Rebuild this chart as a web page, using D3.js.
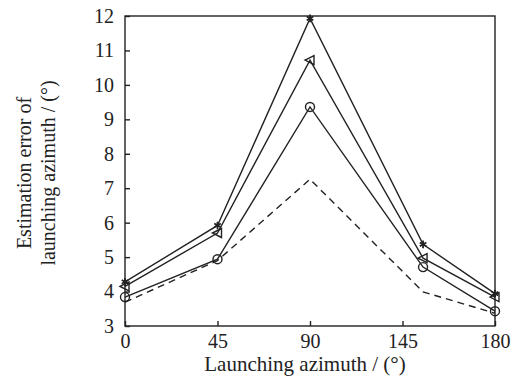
<!DOCTYPE html>
<html>
<head>
<meta charset="utf-8">
<script src="https://cdn.jsdelivr.net/npm/d3@7"></script>
<style>
body { margin: 0; background: #fff; }
text { font-family: "Liberation Serif", "Times New Roman", serif; fill: #222; }
</style>
</head>
<body>
<div id="chart"></div>
<script>
// azimuths where the points were measured
var azimuths = [0, 45, 90, 145, 180];
// axis ticks (the 4th tick is printed "145" in the source figure)
var xTickValues = [0, 45, 90, 135, 180];
var xTickLabels = ["0", "45", "90", "145", "180"];
var yTickValues = [3, 4, 5, 6, 7, 8, 9, 10, 11, 12];

var starSeries = [4.28, 5.92, 11.93, 5.37, 3.94];
var triangleSeries = [4.15, 5.70, 10.72, 4.97, 3.84];
var circleSeries = [3.84, 4.94, 9.36, 4.71, 3.43];
var dashedSeries = [3.69, 4.90, 7.26, 3.99, 3.37];

var width = 515, height = 378;
var margin = { left: 125, right: 20, top: 16, bottom: 52 };
var w = width - margin.left - margin.right;
var h = height - margin.top - margin.bottom;

var svg = d3.select("#chart").append("svg")
	.attr("width", width)
	.attr("height", height);

var g = svg.append("g")
	.attr("transform", "translate(" + margin.left + "," + margin.top + ")");

var x = d3.scaleLinear().domain([0, 180]).range([0, w]);
var y = d3.scaleLinear().domain([3, 12]).range([h, 0]);

// frame
g.append("rect")
	.attr("width", w)
	.attr("height", h)
	.attr("fill", "none")
	.attr("stroke", "#222")
	.attr("stroke-width", 1.4);

// bottom axis, ticks pointing inward
var xAxis = g.append("g")
	.attr("transform", "translate(0," + h + ")")
	.call(d3.axisBottom(x).tickValues(xTickValues)
		.tickFormat(function (d, i) { return xTickLabels[i]; })
		.tickSize(-5).tickPadding(8));
xAxis.select(".domain").remove();
xAxis.selectAll("line").attr("stroke", "#222").attr("stroke-width", 1.4);
xAxis.selectAll("text").style("font-size", "20px").attr("fill", "#222");

// left axis
var yAxis = g.append("g")
	.call(d3.axisLeft(y).tickValues(yTickValues).tickSize(-5).tickPadding(11));
yAxis.select(".domain").remove();
yAxis.selectAll("line").attr("stroke", "#222").attr("stroke-width", 1.4);
yAxis.selectAll("text").style("font-size", "20px").attr("fill", "#222");

var line = d3.line()
	.x(function (d) { return x(d[0]); })
	.y(function (d) { return y(d[1]); });

function pts(vals) {
	return azimuths.map(function (a, i) { return [a, vals[i]]; });
}

var series = [
	{ vals: dashedSeries, dash: "7,5", marker: null },
	{ vals: circleSeries, dash: null, marker: "circle" },
	{ vals: triangleSeries, dash: null, marker: "triangle" },
	{ vals: starSeries, dash: null, marker: "star" }
];

series.forEach(function (s) {
	g.append("path")
		.datum(pts(s.vals))
		.attr("d", line)
		.attr("fill", "none")
		.attr("stroke", "#222")
		.attr("stroke-width", 1.4)
		.attr("stroke-dasharray", s.dash);

	if (!s.marker) return;
	var m = g.selectAll(null)
		.data(pts(s.vals))
		.enter()
		.append("g")
		.attr("transform", function (d) { return "translate(" + x(d[0]) + "," + y(d[1]) + ")"; });

	if (s.marker == "circle") {
		m.append("circle").attr("r", 4.5)
			.attr("fill", "none").attr("stroke", "#222").attr("stroke-width", 1.4);
	} else if (s.marker == "triangle") {
		// left pointing open triangle
		m.append("path").attr("d", "M-5,0L4,-4.5L4,4.5Z")
			.attr("fill", "none").attr("stroke", "#222").attr("stroke-width", 1.4);
	} else {
		m.append("path").attr("d", d3.symbol(d3.symbolAsterisk, 40))
			.attr("fill", "none").attr("stroke", "#222").attr("stroke-width", 1.8);
	}
});

// axis titles
svg.append("text")
	.attr("x", margin.left + w / 2 - 5)
	.attr("y", 371)
	.attr("text-anchor", "middle")
	.style("font-size", "21px")
	.text("Launching azimuth / (°)");

var yl = svg.append("text")
	.attr("transform", "translate(33,173) rotate(-90)")
	.attr("text-anchor", "middle")
	.style("font-size", "20px");
yl.append("tspan").attr("x", 0).attr("dy", "-0.1em").text("Estimation error of");
yl.append("tspan").attr("x", 0).attr("dy", "1.2em").text("launching azimuth / (°)");
</script>
</body>
</html>
